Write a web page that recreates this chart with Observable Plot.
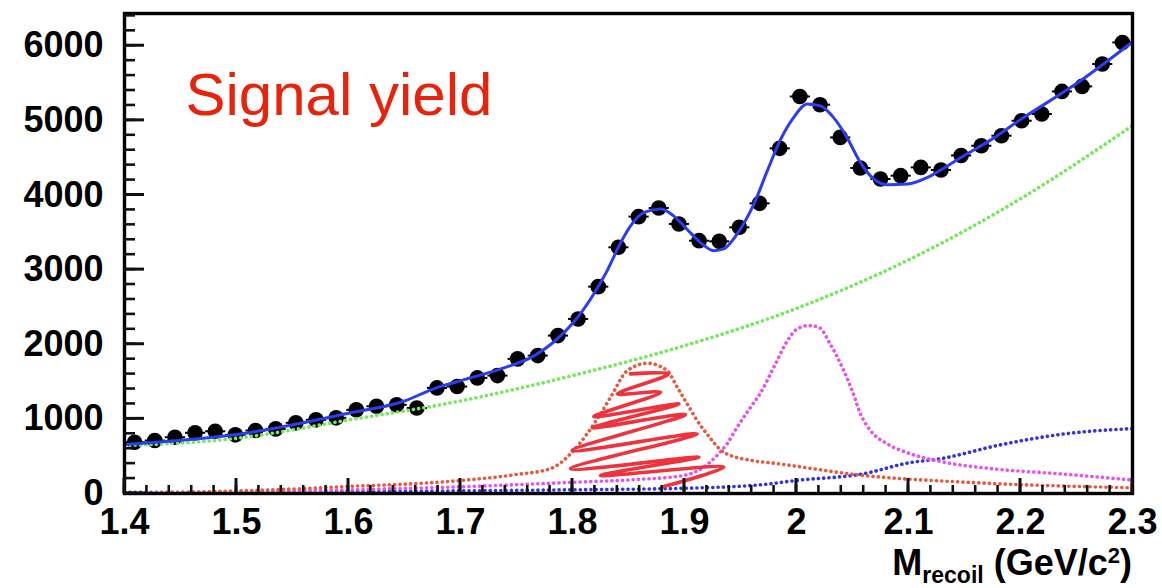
<!DOCTYPE html>
<html>
<head>
<meta charset="utf-8">
<script src="https://cdn.jsdelivr.net/npm/d3@7"></script>
<script src="https://cdn.jsdelivr.net/npm/@observablehq/plot@0.6"></script>
<style>
  html, body { margin: 0; padding: 0; background: #fff; }
  #chart { width: 1162px; height: 588px; overflow: hidden; }
</style>
</head>
<body>
<div id="chart"></div>
<script>
// ---- Data ----
const binCenters = [1.409, 1.427, 1.445, 1.463, 1.481, 1.499, 1.517, 1.535, 1.553, 1.571,
  1.589, 1.607, 1.625, 1.643, 1.661, 1.679, 1.697, 1.715, 1.733, 1.751,
  1.769, 1.787, 1.805, 1.823, 1.841, 1.859, 1.877, 1.895, 1.913, 1.931,
  1.949, 1.967, 1.985, 2.003, 2.021, 2.039, 2.057, 2.075, 2.093, 2.111,
  2.129, 2.147, 2.165, 2.183, 2.201, 2.219, 2.237, 2.255, 2.273, 2.291];
const counts = [687, 710, 754, 813, 834, 786, 844, 866, 947, 987,
  1014, 1121, 1169, 1188, 1145, 1415, 1433, 1549, 1580, 1804,
  1848, 2116, 2339, 2772, 3299, 3710, 3826, 3612, 3388, 3379,
  3567, 3888, 4625, 5320, 5210, 4772, 4362, 4214, 4259, 4370,
  4335, 4530, 4660, 4794, 4995, 5085, 5388, 5455, 5755, 6044];
const binHalfWidth = 0.009;

// total fit (solid blue)
const fitX = [1.4, 1.5, 1.6, 1.65, 1.676, 1.706, 1.736, 1.766, 1.783, 1.801, 1.819, 1.831, 1.843,
  1.852, 1.864, 1.879, 1.890, 1.902, 1.914, 1.926, 1.935, 1.947, 1.962, 1.974, 1.986, 1.998,
  2.0095, 2.021, 2.033, 2.045, 2.057, 2.069, 2.081, 2.099, 2.117, 2.135, 2.152, 2.170, 2.2, 2.2536, 2.3];
const fitY = [656, 790, 1075, 1240, 1402, 1536, 1670, 1848, 2027, 2294, 2674, 2987, 3360,
  3589, 3767, 3813, 3723, 3545, 3366, 3254, 3277, 3478, 3880, 4326, 4750, 5050,
  5219, 5196, 5040, 4772, 4437, 4214, 4138, 4147, 4236, 4393, 4549, 4705, 5010, 5531, 6050];

// background (green dotted)
const bkgX = [1.4, 1.5, 1.6, 1.7, 1.8, 1.9, 2.0, 2.1, 2.2, 2.3];
const bkgY = [640, 740, 985, 1240, 1580, 1980, 2480, 3130, 3950, 4930];

// first peak (red dotted)
const peak1X = [1.4, 1.45, 1.5, 1.55, 1.6, 1.65, 1.7, 1.75, 1.78, 1.80, 1.813, 1.825, 1.834, 1.849,
  1.867, 1.8845, 1.8935, 1.9024, 1.9113, 1.92, 1.935, 1.96, 1.98, 2.06, 2.15, 2.3];
const peak1Y = [0, 15, 35, 60, 95, 125, 174, 255, 331, 560, 799, 1067, 1290, 1647,
  1745, 1647, 1424, 1201, 978, 799, 553, 442, 406, 241, 152, 76];

// second peak (magenta dotted)
const peak2X = [1.4, 1.5, 1.6, 1.7, 1.8, 1.86, 1.899, 1.917, 1.929, 1.938, 1.947, 1.959, 1.968, 1.98,
  1.992, 2.0006, 2.011, 2.020, 2.030, 2.0408, 2.0497, 2.0571, 2.066, 2.081, 2.1018, 2.1315, 2.1762, 2.2357, 2.3];
const peak2Y = [0, 20, 50, 90, 150, 190, 241, 352, 509, 666, 888, 1156, 1350, 1700,
  2049, 2205, 2250, 2227, 2005, 1692, 1379, 1067, 844, 666, 532, 420, 330, 263, 180];

// third component (blue dotted)
const comp3X = [1.4, 1.6, 1.8, 1.9, 1.97, 2.0, 2.06, 2.1, 2.13, 2.18, 2.24, 2.3];
const comp3Y = [15, 25, 50, 70, 120, 175, 265, 410, 470, 645, 800, 870];

// hand-drawn red scribble annotation over the first peak
const scribbleX = [1.8518, 1.886, 1.840, 1.8786, 1.819, 1.895, 1.8176, 1.9009, 1.7997, 1.9113,
  1.7982, 1.9128, 1.825, 1.9351, 1.8815];
const scribbleY = [1603, 1603, 1335, 1357, 1031, 1201, 880, 1058, 576, 799,
  331, 486, 241, 352, 94];

const xTicks = [1.4, 1.5, 1.6, 1.7, 1.8, 1.9, 2.0, 2.1, 2.2, 2.3];
const xTickLabels = ["1.4", "1.5", "1.6", "1.7", "1.8", "1.9", "2", "2.1", "2.2", "2.3"];
const yTicks = [0, 1000, 2000, 3000, 4000, 5000, 6000];
const yTickLabels = ["0", "1000", "2000", "3000", "4000", "5000", "6000"];
const xMinor = d3.range(0, 46).map(i => +(1.4 + i * 0.02).toFixed(2));
const yMinor = d3.range(0, 33).map(i => i * 200);

// ---- Build tables ----
const pts = binCenters.map((x, i) => ({x, y: counts[i]}));
const toRows = (xs, ys) => xs.map((x, i) => ({x, y: ys[i]}));
const fit = toRows(fitX, fitY);
const bkg = toRows(bkgX, bkgY);
const p1 = toRows(peak1X, peak1Y);
const p2 = toRows(peak2X, peak2Y);
const c3 = toRows(comp3X, comp3Y);
const scr = toRows(scribbleX, scribbleY);

const dotted = {strokeWidth: 3.6, strokeDasharray: "0.1,5.2", strokeLinecap: "round", curve: "monotone-x"};
const tickFont = {fontSize: 36, fontWeight: "bold", fontFamily: "Liberation Sans, Arial, sans-serif"};

const svg = Plot.plot({
  width: 1162,
  height: 588,
  marginLeft: 124,
  marginRight: 30,
  marginTop: 13,
  marginBottom: 95,
  style: {background: "#fff", fontFamily: "Liberation Sans, Arial, sans-serif", color: "black"},
  x: {domain: [1.4, 2.3]},
  y: {domain: [0, 6432]},
  marks: [
    // data points with horizontal bin bars
    Plot.link(pts, {x1: d => d.x - binHalfWidth, x2: d => d.x + binHalfWidth, y1: "y", y2: "y", stroke: "black", strokeWidth: 2}),
    Plot.dot(pts, {x: "x", y: "y", r: 7.8, fill: "black", stroke: "none"}),
    // components
    Plot.line(bkg, {x: "x", y: "y", stroke: "#72ea5a", ...dotted}),
    Plot.line(c3, {x: "x", y: "y", stroke: "#3232e6", ...dotted}),
    Plot.line(p2, {x: "x", y: "y", stroke: "#e852e8", ...dotted}),
    Plot.line(p1, {x: "x", y: "y", stroke: "#e8583f", ...dotted}),
    // total fit
    Plot.line(fit, {x: "x", y: "y", stroke: "#2b3df0", strokeWidth: 3, curve: "monotone-x"}),
    // scribble
    Plot.line(scr, {x: "x", y: "y", stroke: "#f0323c", strokeWidth: 3.6, curve: "catmull-rom"}),
    // tick labels
    Plot.axisX({ticks: xTicks, tickSize: 0, tickPadding: 15, tickFormat: (d, i) => xTickLabels[i], label: null, ...tickFont}),
    Plot.axisY({ticks: yTicks, tickSize: 0, tickPadding: 21, tickFormat: (d, i) => yTickLabels[i], label: null, ...tickFont}),
    Plot.frame({stroke: "black", strokeWidth: 3.4}),
    Plot.text(["Signal yield"], {frameAnchor: "top-left", textAnchor: "start", lineAnchor: "top", dx: 61, dy: 59,
      fontSize: 60, fill: "#e8230c", fontFamily: "Liberation Sans, Arial, sans-serif"})
  ]
});

// ROOT-style inward ticks, positioned with Plot's own scales
const xs = svg.scale("x"), ys = svg.scale("y");
const x0 = xs.apply(1.4), yBase = ys.apply(0);
const tg = d3.select(svg).append("g").attr("stroke", "#111");
const addX = (vals, len, w) => vals.forEach(v => tg.append("line")
  .attr("x1", xs.apply(v)).attr("x2", xs.apply(v)).attr("y1", yBase).attr("y2", yBase - len).attr("stroke-width", w));
const addY = (vals, len, w) => vals.forEach(v => tg.append("line")
  .attr("x1", x0).attr("x2", x0 + len).attr("y1", ys.apply(v)).attr("y2", ys.apply(v)).attr("stroke-width", w));
addX(xMinor, 8, 2.6);
addX(xTicks, 15, 3);
addY(yMinor, 11, 2.6);
addY(yTicks, 20, 3);

// x-axis title with subscript and superscript
const t = d3.select(svg).append("text")
  .attr("x", 1132).attr("y", 575)
  .attr("text-anchor", "end")
  .attr("font-family", "Liberation Sans, Arial, sans-serif")
  .attr("font-weight", "bold")
  .attr("font-size", 36)
  .attr("fill", "black");
t.append("tspan").text("M");
t.append("tspan").attr("font-size", 23).attr("dy", 8).text("recoil");
t.append("tspan").attr("dy", -8).text(" (GeV/c");
t.append("tspan").attr("font-size", 22).attr("dy", -12).text("2");
t.append("tspan").attr("dy", 12).text(")");

document.getElementById("chart").appendChild(svg);
</script>
</body>
</html>
